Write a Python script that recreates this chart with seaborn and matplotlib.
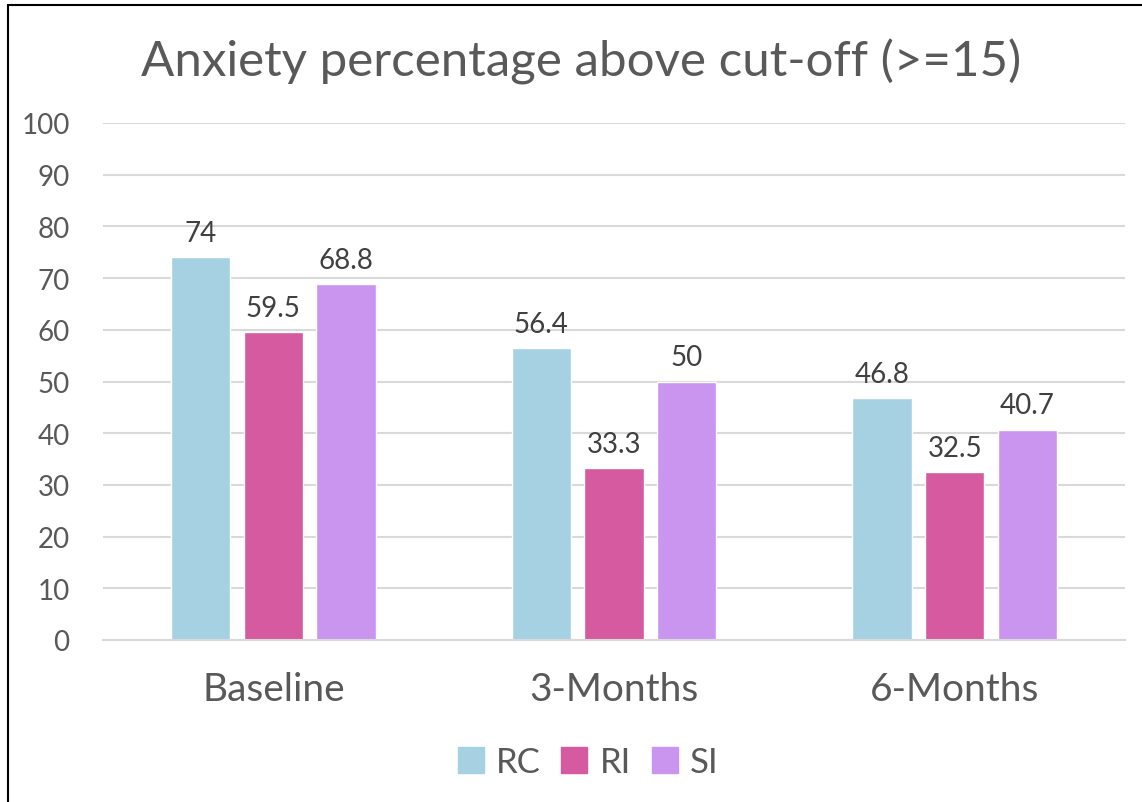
import matplotlib
matplotlib.use("Agg")
import matplotlib.pyplot as plt
from matplotlib.patches import Rectangle
import seaborn as sns
import pandas as pd

periods = ["Baseline", "3-Months", "6-Months"]
groups = ["RC", "RI", "SI"]
rc_values = [74, 56.4, 46.8]
ri_values = [59.5, 33.3, 32.5]
si_values = [68.8, 50, 40.7]
value_labels = {"RC": ["74", "56.4", "46.8"],
                "RI": ["59.5", "33.3", "32.5"],
                "SI": ["68.8", "50", "40.7"]}
y_ticks = list(range(0, 101, 10))
palette = {"RC": "#A5D1E3", "RI": "#D55A9F", "SI": "#CA95EF"}

df = pd.DataFrame({
    "period": periods * 3,
    "group": ["RC"] * 3 + ["RI"] * 3 + ["SI"] * 3,
    "value": rc_values + ri_values + si_values,
})

sns.set_theme(style="white")
plt.rcParams["font.family"] = ["Lato", "DejaVu Sans"]
text_color = "#595959"
grid_color = "#D9D9D9"

fig = plt.figure(figsize=(11.42, 8.03), dpi=100)
ax = fig.add_axes([103 / 1142, 1 - 641 / 803, (1125 - 103) / 1142, (641 - 124) / 803])

sns.barplot(data=df, x="period", y="value", hue="group", order=periods,
            hue_order=groups, palette=palette, width=0.64, gap=0.18,
            saturation=1, ax=ax, legend=False)

ax.set_ylim(0, 100)
ax.set_xlim(-0.5, 2.5)
ax.set_yticks(y_ticks)
ax.yaxis.grid(True, color=grid_color, linewidth=1.5)
ax.set_axisbelow(True)
for side in ["top", "right", "left"]:
    ax.spines[side].set_visible(False)
ax.spines["bottom"].set_color(grid_color)
ax.spines["bottom"].set_linewidth(1.5)
ax.tick_params(axis="y", length=0, labelsize=20, labelcolor=text_color, pad=24)
ax.tick_params(axis="x", length=0, labelsize=28, labelcolor=text_color, pad=22)
ax.set_xlabel("")
ax.set_ylabel("")

for container, g in zip(ax.containers, groups):
    ax.bar_label(container, labels=value_labels[g], padding=8,
                 fontsize=20, color="#404040")

fig.text(0.5 + 10 / 1142, 1 - 62 / 803, "Anxiety percentage above cut-off (>=15)",
         ha="center", va="center", fontsize=35.5, color=text_color)

handles = [Rectangle((0, 0), 1, 1, color=palette[g]) for g in groups]
fig.legend(handles, groups, loc="center", bbox_to_anchor=(588 / 1142, 1 - 763 / 803),
           ncol=3, frameon=False, fontsize=25, labelcolor=text_color,
           handlelength=0.75, handleheight=0.75, handletextpad=0.35, columnspacing=0.6)

fig.patches.append(Rectangle((8 / 1142, -0.1), 2, 1 - 6 / 803 + 0.1,
                             transform=fig.transFigure, fill=False,
                             edgecolor="black", linewidth=1.5))

fig.savefig("out.png", dpi=100)
